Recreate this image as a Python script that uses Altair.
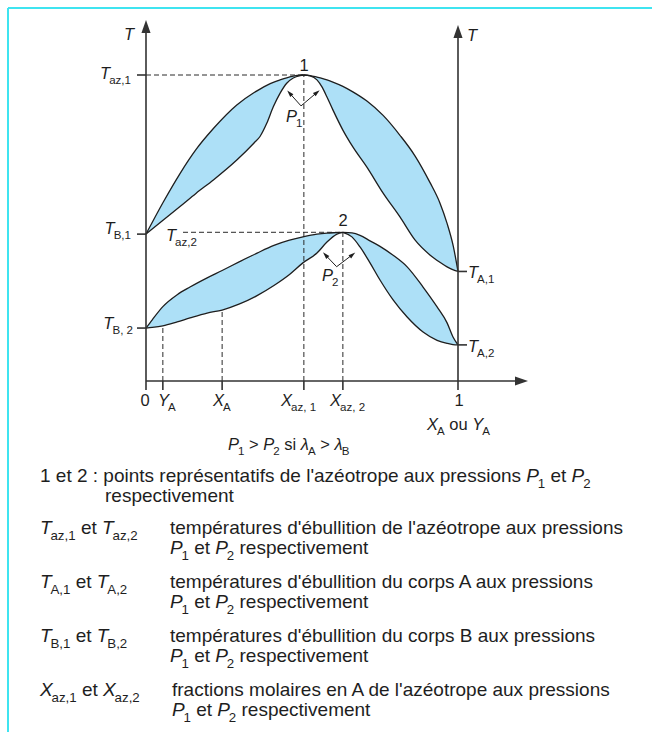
import altair as alt
import pandas as pd

# ---------------- diagram values ----------------
# x: mole fraction of A ; T: temperature (arbitrary units, x-axis at T = 0)
X_AZ1, X_AZ2 = 0.506, 0.631
Y_A_VAL, X_A_VAL = 0.054, 0.244
T_AZ1, T_AZ2 = 100.0, 48.6
T_B1, T_B2 = 48.0, 17.3
T_A1, T_A2 = 35.8, 11.8

# pressure P1, B side of the azeotrope
p1b_x = [0.0, 0.0555, 0.109, 0.16, 0.216, 0.291, 0.3455, 0.3654, 0.387, 0.408, 0.4295, 0.451, 0.472, 0.494, 0.506]
p1b_up = [48.0, 58.5, 67.8, 75.6, 82.5, 90.2, 94.2, 95.4, 96.6, 97.6, 98.4, 99.1, 99.6, 99.95, 100.0]
p1b_lo = [48.0, 52.6, 57.0, 61.3, 65.7, 72.2, 77.7, 79.9, 84.2, 89.6, 94.0, 97.3, 99.0, 99.8, 100.0]

# pressure P1, A side of the azeotrope
p1a_x = [0.506, 0.526, 0.548, 0.564, 0.58, 0.599, 0.631, 0.663, 0.708, 0.76, 0.814, 0.862, 0.91, 0.942, 0.965, 0.985, 1.0]
p1a_up = [100.0, 99.8, 99.3, 98.9, 98.4, 97.7, 96.3, 94.5, 91.5, 86.8, 80.3, 73.6, 64.9, 58.2, 51.5, 44.0, 35.8]
p1a_lo = [100.0, 99.7, 98.4, 96.1, 92.8, 88.6, 82.0, 76.5, 69.9, 61.4, 53.6, 46.1, 41.2, 38.8, 37.3, 36.3, 35.8]

# pressure P2, B side of the azeotrope
p2b_x = [0.0, 0.02, 0.054, 0.1, 0.141, 0.196, 0.244, 0.3, 0.356, 0.41, 0.46, 0.503, 0.548, 0.58, 0.612, 0.631]
p2b_up = [17.3, 20.0, 24.3, 28.2, 30.7, 33.7, 36.1, 39.0, 41.8, 44.3, 46.0, 47.1, 48.0, 48.35, 48.5, 48.6]
p2b_lo = [17.3, 17.5, 18.0, 19.3, 20.6, 22.2, 23.2, 25.2, 27.9, 31.2, 34.8, 38.6, 41.8, 45.4, 48.0, 48.6]

# pressure P2, A side of the azeotrope
p2a_x = [0.631, 0.66, 0.686, 0.718, 0.75, 0.792, 0.837, 0.888, 0.933, 0.965, 0.984, 1.0]
p2a_up = [48.6, 48.4, 47.6, 45.8, 44.0, 41.1, 37.3, 30.7, 24.2, 19.0, 14.4, 11.8]
p2a_lo = [48.6, 47.1, 43.8, 38.6, 33.0, 26.5, 20.9, 16.0, 13.3, 12.3, 11.9, 11.8]

# pressure-shift arrows near each azeotrope: vertex and the two heads (x, T)
p1_arrow = [(0.4968, 89.9), (0.460, 94.1), (0.548, 94.3)]
p2_arrow = [(0.611, 37.35), (0.575, 41.2), (0.662, 41.3)]

# ---------------- texts ----------------
legend_head = "1 et 2 : points représentatifs de l'azéotrope aux pressions "
legend_rows = [
    (("T", "az,1"), ("T", "az,2"), "températures d'ébullition de l'azéotrope aux pressions"),
    (("T", "A,1"), ("T", "A,2"), "températures d'ébullition du corps A aux pressions"),
    (("T", "B,1"), ("T", "B,2"), "températures d'ébullition du corps B aux pressions"),
    (("X", "az,1"), ("X", "az,2"), "fractions molaires en A de l'azéotrope aux pressions"),
]

# ---------------- layout ----------------
W, H = 652, 732
X0_PX, X1_PX = 146, 458          # x = 0 and x = 1
AXIS_PY, PX_PER_T = 381, 3.06     # T = 0 and pixels per T unit
BLUE = "#ade0f7"
INK = "#1e1e1e"
FONT = "Liberation Sans"

x_dom = [-X0_PX / (X1_PX - X0_PX), (W - X0_PX) / (X1_PX - X0_PX)]
y_dom = [-(H - AXIS_PY) / PX_PER_T, AXIS_PY / PX_PER_T]
xs = alt.Scale(domain=x_dom, nice=False, zero=False)
ys = alt.Scale(domain=y_dom, nice=False, zero=False)
def px_x(p):  # horizontal pixel offset -> x units
    return p / (X1_PX - X0_PX)
def px_t(p):  # vertical pixel offset -> T units
    return p / PX_PER_T

# lens fills and boundary curves
lens_rows, curve_rows = [], []
for name, xv, up, lo in [("p1b", p1b_x, p1b_up, p1b_lo), ("p1a", p1a_x, p1a_up, p1a_lo),
                         ("p2b", p2b_x, p2b_up, p2b_lo), ("p2a", p2a_x, p2a_up, p2a_lo)]:
    for a, u, l in zip(xv, up, lo):
        lens_rows.append(dict(lens=name, x=a, up=u, lo=l))
        curve_rows.append(dict(curve=name + "u", x=a, T=u))
        curve_rows.append(dict(curve=name + "l", x=a, T=l))
lens_df = pd.DataFrame(lens_rows)
curve_df = pd.DataFrame(curve_rows)

fill = alt.Chart(lens_df).mark_area(interpolate="monotone", color=BLUE, opacity=1).encode(
    x=alt.X("x:Q", scale=xs, axis=None),
    y=alt.Y("up:Q", scale=ys, axis=None),
    y2="lo:Q",
    detail="lens:N",
)
curves = alt.Chart(curve_df).mark_line(interpolate="monotone", color=INK, strokeWidth=1.3).encode(
    x=alt.X("x:Q", scale=xs, axis=None),
    y=alt.Y("T:Q", scale=ys, axis=None),
    detail="curve:N",
    order="x:Q",
)

# dashed guide lines
dash_df = pd.DataFrame([
    dict(x=0.0, T=T_AZ1, x2=X_AZ1, T2=T_AZ1),
    dict(x=X_AZ1, T=0.0, x2=X_AZ1, T2=T_AZ1),
    dict(x=px_x(37), T=T_AZ2, x2=X_AZ2, T2=T_AZ2),
    dict(x=X_AZ2, T=0.0, x2=X_AZ2, T2=T_AZ2),
    dict(x=Y_A_VAL, T=0.0, x2=Y_A_VAL, T2=p2b_lo[p2b_x.index(Y_A_VAL)]),
    dict(x=X_A_VAL, T=0.0, x2=X_A_VAL, T2=p2b_lo[p2b_x.index(X_A_VAL)]),
])
dashes = alt.Chart(dash_df).mark_rule(color="#2a2a2a", strokeWidth=1, strokeDash=[5, 3]).encode(
    x=alt.X("x:Q", scale=xs, axis=None), y=alt.Y("T:Q", scale=ys, axis=None), x2="x2:Q", y2="T2:Q"
)

# axes and tick marks
tick_len_x, tick_len_t = px_x(9), px_t(9)
head_left_T = px_t(AXIS_PY - 26.5)
head_right_T = px_t(AXIS_PY - 31.5)
head_x = px_x(521.5 - X0_PX)
axis_rows = [
    dict(x=0.0, T=-tick_len_t, x2=0.0, T2=head_left_T),
    dict(x=1.0, T=-tick_len_t, x2=1.0, T2=head_right_T),
    dict(x=0.0, T=0.0, x2=head_x, T2=0.0),
]
for v in [Y_A_VAL, X_A_VAL, X_AZ1, X_AZ2]:
    axis_rows.append(dict(x=v, T=-tick_len_t, x2=v, T2=0.0))
for v in [T_AZ1, T_B1, T_B2]:
    axis_rows.append(dict(x=-tick_len_x, T=v, x2=0.0, T2=v))
for v in [T_A1, T_A2]:
    axis_rows.append(dict(x=1.0, T=v, x2=1.0 + tick_len_x, T2=v))
axes = alt.Chart(pd.DataFrame(axis_rows)).mark_rule(color="#333333", strokeWidth=1.6).encode(
    x=alt.X("x:Q", scale=xs, axis=None), y=alt.Y("T:Q", scale=ys, axis=None), x2="x2:Q", y2="T2:Q"
)

HEAD = "M0,-1L0.7,1L-0.7,1Z"
big_heads = alt.Chart(pd.DataFrame([
    dict(x=0.0, T=head_left_T, ang=0), dict(x=1.0, T=head_right_T, ang=0), dict(x=head_x, T=0.0, ang=90),
])).mark_point(shape=HEAD, filled=True, color="#333333", size=169, opacity=1).encode(
    x=alt.X("x:Q", scale=xs, axis=None), y=alt.Y("T:Q", scale=ys, axis=None),
    angle=alt.Angle("ang:Q", scale=None),
)

# pressure arrows
arr_rows, head_rows = [], []
for (vx, vt), (lx, lt), (rx, rt), angs in [(*p1_arrow, (319, 50)), (*p2_arrow, (317, 51))]:
    arr_rows += [dict(x=vx, T=vt, x2=lx, T2=lt), dict(x=vx, T=vt, x2=rx, T2=rt)]
    head_rows += [dict(x=lx, T=lt, ang=angs[0]), dict(x=rx, T=rt, ang=angs[1])]
p_lines = alt.Chart(pd.DataFrame(arr_rows)).mark_rule(color=INK, strokeWidth=1).encode(
    x=alt.X("x:Q", scale=xs, axis=None), y=alt.Y("T:Q", scale=ys, axis=None), x2="x2:Q", y2="T2:Q"
)
p_heads = alt.Chart(pd.DataFrame(head_rows)).mark_point(shape="M0,-1L0.6,1L-0.6,1Z", filled=True, color=INK, size=49, opacity=1).encode(
    x=alt.X("x:Q", scale=xs, axis=None), y=alt.Y("T:Q", scale=ys, axis=None),
    angle=alt.Angle("ang:Q", scale=None),
)

# ---------------- text runs (main glyph, subscripts, italics) ----------------
ADV = {' ': 278, ',': 278, '.': 278, ':': 278, "'": 191, '>': 584, 'A': 667, 'B': 667, 'P': 667,
       'T': 611, 'X': 667, 'Y': 667, 'a': 556, 'b': 556, 'c': 500, 'd': 556, 'e': 556, 'é': 556,
       'f': 278, 'g': 556, 'h': 556, 'i': 222, 'l': 222, 'm': 833, 'n': 556, 'o': 556, 'p': 556,
       'q': 556, 'r': 333, 's': 500, 't': 278, 'u': 556, 'v': 500, 'x': 500, 'y': 500, 'z': 500,
       'λ': 500}
for d in "0123456789":
    ADV[d] = 556
SUB, DROP, TUCK = 0.7, 0.3, 0.06

def adv(t, size):
    return sum(ADV.get(c, 556) for c in t) * size / 1000

def run(segments, x, y, base, align="left"):
    sizes = [base * SUB if k == "s" else base for _, k in segments]
    widths = [adv(t, s) for (t, _), s in zip(segments, sizes)]
    # a subscript tucks slightly under the italic letter before it
    for i in range(1, len(segments)):
        if segments[i][1] == "s" and segments[i - 1][1] == "i":
            widths[i - 1] -= base * TUCK
    total = sum(widths)
    if align == "right":
        x -= total
    elif align == "center":
        x -= total / 2
    out = []
    for (t, k), s, w in zip(segments, sizes, widths):
        body = t.strip(" ")
        lead = adv(t[:len(t) - len(t.lstrip(" "))], s)   # leading blanks are not drawn by SVG
        out.append(dict(text=body, px=x + lead, py=y + (base * DROP if k == "s" else 0), size=s,
                        style="italic" if k == "i" else "normal"))
        x += w
    return out

D = 16.5   # diagram labels
L = 19.0   # explanation block
rows = []
rows += run([("T", "i")], 124, 40, D)
rows += run([("T", "i")], 467, 41, D)
rows += run([("T", "i"), ("az,1", "s")], 131, 79, D, "right")
rows += run([("T", "i"), ("B,1", "s")], 131, 234, D, "right")
rows += run([("T", "i"), ("az,2", "s")], 166, 241, D)
rows += run([("T", "i"), ("B, 2", "s")], 133, 329, D, "right")
rows += run([("T", "i"), ("A,1", "s")], 468, 278, D)
rows += run([("T", "i"), ("A,2", "s")], 468, 352, D)
rows += run([("1", "n")], 304, 71, D, "center")
rows += run([("2", "n")], 343, 226, D, "center")
rows += run([("P", "i"), ("1", "s")], 286, 122, D)
rows += run([("P", "i"), ("2", "s")], 322, 281, D)
rows += run([("0", "n")], 145, 406, D, "center")
rows += run([("Y", "i"), ("A", "s")], 158, 406, D)
rows += run([("X", "i"), ("A", "s")], 213, 406, D)
rows += run([("X", "i"), ("az, 1", "s")], 281, 406, D)
rows += run([("X", "i"), ("az, 2", "s")], 330, 406, D)
rows += run([("1", "n")], 459, 406, D, "center")
rows += run([("X", "i"), ("A", "s"), (" ou ", "n"), ("Y", "i"), ("A", "s")], 427, 430, D)
rows += run([("P", "i"), ("1", "s"), (" > ", "n"), ("P", "i"), ("2", "s"), (" si ", "n"),
             ("λ", "i"), ("A", "s"), (" > ", "n"), ("λ", "i"), ("B", "s")], 228, 450, D)

p_pair = [("P", "i"), ("1", "s"), (" et ", "n"), ("P", "i"), ("2", "s")]
rows += run([(legend_head, "n")] + p_pair, 40, 482, L)
rows += run([("respectivement", "n")], 105, 502, L)
for i, ((s1, sub1), (s2, sub2), desc) in enumerate(legend_rows):
    base_y = 534 + 54 * i
    col_x = 172 if s1 == "X" else 170
    rows += run([(s1, "i"), (sub1, "s"), (" et ", "n"), (s2, "i"), (sub2, "s")], 40, base_y, L)
    rows += run([(desc, "n")], col_x, base_y, L)
    rows += run(p_pair + [(" respectivement", "n")], col_x, base_y + 20, L)
text_df = pd.DataFrame(rows)

def text_layer(style):
    return alt.Chart(text_df[text_df["style"] == style]).mark_text(
        align="left", baseline="alphabetic", font=FONT, fontStyle=style, color=INK
    ).encode(
        x=alt.X("px:Q", scale=None), y=alt.Y("py:Q", scale=None),
        text="text:N", size=alt.Size("size:Q", scale=None),
    )

# cyan frame on the top and left edges
frame_top = alt.Chart(pd.DataFrame({"k": [0]})).mark_rule(color="#3fe4f0", strokeWidth=2).encode(
    x=alt.value(8), x2=alt.value(W), y=alt.value(8))
frame_left = alt.Chart(pd.DataFrame({"k": [0]})).mark_rule(color="#3fe4f0", strokeWidth=2).encode(
    x=alt.value(8), y=alt.value(8), y2=alt.value(H))

chart = alt.layer(
    fill, dashes, curves, axes, big_heads, p_lines, p_heads,
    text_layer("normal"), text_layer("italic"), frame_top, frame_left,
).properties(
    width=W, height=H, background="white", padding=0, autosize=alt.AutoSizeParams(type="none")
).configure_view(stroke=None)

chart.save("out.html", embed_options={"renderer": "svg", "actions": False})
